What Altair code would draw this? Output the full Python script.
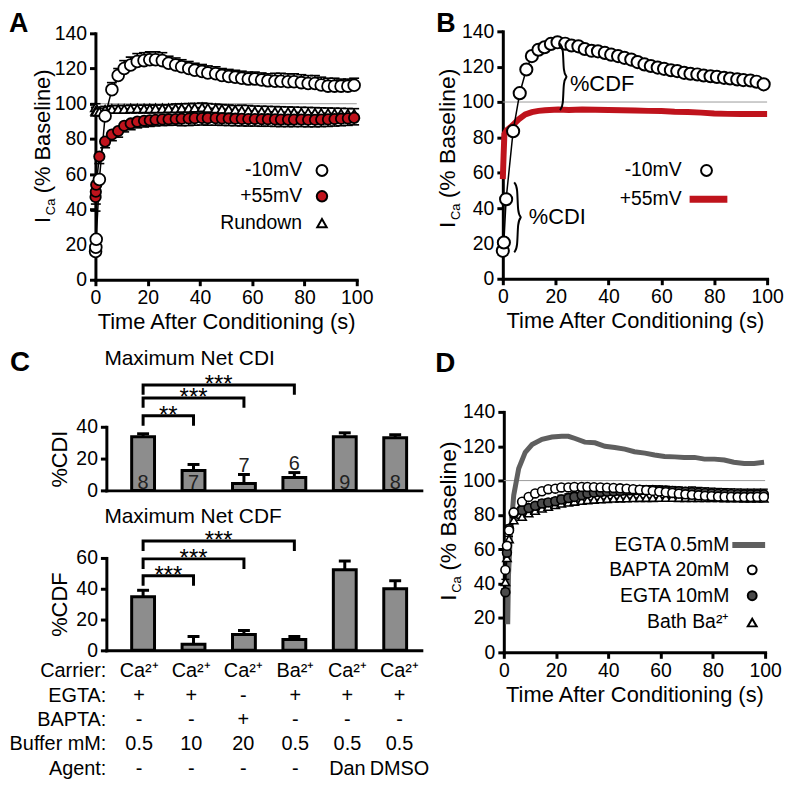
import altair as alt
import pandas as pd

FONT = "Liberation Sans"
W, H = 778, 772

RED = "#bf131c"
BAR_GRAY = "#8d8d8d"
LINE_GRAY = "#5f5f5f"
DARK_PT = "#4a4a4a"
REF_GRAY = "#9a9a9a"

# ---------------- tick labels / reference ----------------
time_ticks = [0, 20, 40, 60, 80, 100]
pct_ticks = [0, 20, 40, 60, 80, 100, 120, 140]
cdi_ticks = [0, 20, 40]
cdf_ticks = [0, 20, 40, 60]
baseline_pct = [100]

# ---------------- Panel A ----------------
tA = [0.05, 0.15, 0.3, 1.5, 3.7, 6.3, 8.7, 11, 13.5, 16, 18.6, 20.8, 23, 25.6, 28, 30.7, 33, 35.7, 38, 40.8,
      43, 46, 48.4, 51, 53.5, 56, 58.5, 61, 63.6, 66, 68.7, 71, 73.7, 76, 78.8, 81.4, 84, 86.4, 89, 91.5,
      94, 96.6, 99]
yA_m10 = [16, 18.5, 23, 57, 93, 108, 116, 120, 122, 124, 124.5, 125, 125, 124.5, 123, 122, 121, 120, 119, 118.3,
          117.5, 117, 116, 115.5, 115, 114.5, 114, 114, 113.5, 113, 112.8, 112.8, 112.5, 112.5, 112, 111.5, 111.5,
          110.6, 110, 110, 110, 110, 110.5]
semA_m10 = [0.5, 0.5, 0.8, 2, 3, 4, 4, 4.5, 4.5, 4.5, 4.5, 4.5, 4.5, 4.5, 4, 4, 4, 4, 4, 4, 4, 4, 4, 4, 4, 4, 4,
            4, 4, 4, 4.5, 4.5, 4.5, 4.5, 4.5, 4.5, 4.5, 4.5, 4.5, 4.5, 4, 4, 4]
yA_p55 = [47, 50, 54, 70, 78.5, 82.5, 84.5, 87.5, 88.8, 89.8, 90.3, 90.6, 90.9, 91.1, 91.2, 91.3, 91.5, 91.6, 91.8,
          91.9, 91.8, 91.8, 91.7, 91.6, 91.5, 91.4, 91.3, 91.3, 91.2, 91.2, 91.1, 91.0, 91.0, 91.0, 91.0, 90.9,
          90.9, 91.0, 91.1, 91.3, 91.5, 91.7, 92]
semA_p55 = [8, 7, 6, 4, 3.5, 3.5, 3.5, 3.5, 3.5, 3.5, 3.5, 3.5, 3.5, 3.5, 3.5, 3.5, 4, 4, 4, 4, 4, 4, 4, 4, 4, 4,
            4, 4, 4, 4, 4, 4, 4, 4, 4, 4, 4, 4, 4, 4, 4, 4, 4]
yA_run = [98, 96, 95.5, 95.5, 96.5, 97, 97, 97, 97.2, 97.2, 97.2, 97.2, 97.3, 97.3, 97.4, 97.4, 97.5, 97.6, 97.7,
          97.9, 97.6, 97.3, 97, 96.8, 96.5, 96.2, 96, 95.7, 95.6, 95.5, 95.4, 95.3, 95.2, 95.1, 95, 94.9, 94.8,
          94.7, 94.6, 94.5, 94.4, 94.3, 94.2]
semA_run = [2, 2, 2, 2, 2, 2, 2, 2, 2, 2, 2, 2, 2, 2, 2, 2.5, 2.5, 2.5, 2.5, 2.5, 2.5, 2.5, 2.5, 2.5, 2.5, 3, 3,
            3, 3, 3, 3, 3, 3, 3, 3, 3, 3, 3, 3, 3, 3, 3, 3]

# ---------------- Panel B ----------------
tB = [0, 0.4, 1.25, 3.9, 6.4, 8.9, 11, 13.5, 15.8, 18.2, 20.7, 23.6, 26, 28.6, 31, 33.6, 36, 38.6, 41, 43.6,
      46, 48.6, 51, 53.6, 56, 58.6, 61, 63.6, 66, 68.6, 71, 73.6, 76, 78.6, 81, 83.7, 86, 88.7, 91, 93.7, 96, 98.7]
yB_m10 = [15.8, 20.5, 45, 83.5, 105, 118.4, 126, 129.6, 131, 132.9, 133.8, 133, 132, 131.5, 130, 129, 128.7,
          127.8, 126.8, 126, 125, 124, 122.6, 121.3, 120.4, 119.5, 118.8, 118, 117.5, 116.5, 116, 115.6, 115,
          114.6, 114.2, 113.7, 113.3, 112.8, 112.4, 112.2, 111.5, 110]
tB_p55 = [0, 0.3, 0.6, 1.5, 3.5, 6, 8.5, 11, 13.5, 16, 21, 25, 30, 35, 40, 45, 50, 55, 60, 65, 70, 75, 80, 85,
          90, 95, 100]
yB_p55 = [56.4, 70, 81.8, 84, 86.5, 90.2, 93, 94.3, 95, 95.3, 95.8, 95.5, 95.8, 95.6, 95.5, 95.3, 95.2, 95,
          94.9, 94.5, 94.3, 94, 93.5, 93.3, 93.2, 93.2, 93.2]
brace_names = ["%CDF", "%CDI"]
brace_x = [21.6, 4.3]
brace_lo = [95.5, 15]
brace_hi = [133, 54.5]
brace_text_x = [25.4, 9.8]
brace_text_y = [110, 35]

# ---------------- Panel C ----------------
cond = [1, 2, 3, 4, 5, 6]
cdi = [33.7, 12.5, 4.4, 8.1, 33.7, 33.1]
cdi_sem = [1.9, 3.8, 5.6, 3.1, 2.5, 1.9]
cdf = [34.8, 3.9, 10.3, 7.0, 52.3, 40.0]
cdf_sem = [4.2, 5.1, 2.6, 2.0, 5.7, 5.2]
n_cells = ["8", "7", "7", "6", "9", "8"]
sig_to = [2, 3, 4]
cdi_sig = ["**", "***", "***"]
cdi_sig_y = [46.9, 58.1, 66.3]
cdf_sig = ["***", "***", "***"]
cdf_sig_y = [48.4, 59.4, 71.0]

rows = ["Carrier:", "EGTA:", "BAPTA:", "Buffer mM:", "Agent:"]
carrier = ["Ca²⁺", "Ca²⁺", "Ca²⁺", "Ba²⁺", "Ca²⁺", "Ca²⁺"]
egta = ["+", "+", "-", "+", "+", "+"]
bapta = ["-", "-", "+", "-", "-", "-"]
buffer_mm = ["0.5", "10", "20", "0.5", "0.5", "0.5"]
agent = ["-", "-", "-", "-", "Dan", "DMSO"]

# ---------------- Panel D ----------------
tD_line = [1.5, 1.8, 2.5, 3.8, 5.7, 8.2, 10.8, 14.6, 18.4, 22.2, 24.7, 27.3, 31, 34.9, 38.7, 42.5, 46.3, 50, 54,
           57.7, 61.5, 65.4, 69, 73, 76.8, 80.6, 84.4, 88, 92, 95.8, 99.6]
yD_egta05 = [16.4, 45, 68, 91.5, 107, 116.4, 121, 124, 125.4, 125.8, 125.8, 124.5, 122.4, 122, 120, 119.3, 118.3,
             116.8, 116, 114.9, 114, 113.8, 113.5, 113.5, 112.5, 112.5, 112, 110.7, 110, 110, 110.7]
tD = [0.6, 1.2, 2, 3.8, 7, 9.5, 12, 14.6, 17, 19.7, 22, 24.7, 27, 29.8, 32, 34.5, 37, 39.5, 42, 44.5, 47, 49.5,
      52, 54.5, 57, 59.5, 62, 64.5, 67, 69.5, 72, 74.5, 77, 79.5, 82, 84.5, 87, 89.5, 92, 94.5, 97, 99.5]
yD_bapta = [48, 62, 71, 81.5, 87.7, 90.5, 92.5, 93.8, 95, 95.3, 96, 96, 96.3, 96.3, 96.3, 96.2, 96, 95.9, 95.7,
            95.5, 95.3, 95, 94.7, 94.4, 94, 93.6, 93.2, 92.8, 92.4, 92, 91.7, 91.4, 91.1, 90.9, 90.7, 90.6, 90.5,
            90.4, 90.4, 90.4, 90.5, 90.5]
yD_egta10 = [35, 58, 72, 80.9, 82.8, 84, 85.3, 86.7, 87.3, 88, 89, 89.8, 90.5, 91.5, 92.5, 93, 93.4, 93.6, 93.8,
             94, 94.4, 94.5, 94.5, 94.5, 94.5, 94.4, 94.2, 94, 93.8, 93.5, 93.3, 93, 92.8, 92.6, 92.4, 92.3, 92.2,
             92.1, 92, 92, 92, 92]
semD_egta10 = [2, 2, 2, 2, 2, 2, 2, 2, 2, 2, 2.5, 2.5, 2.5, 2.5, 2.5, 2.5, 2.5, 2.5, 2.5, 2.5, 2.5, 2.5, 2.5, 2.5,
               2.5, 2.5, 2.5, 2.5, 2.5, 2.5, 3, 3, 3, 3, 3, 3, 3, 3, 3, 3, 3, 3]
yD_ba = [41, 55, 66, 77, 79, 81, 82.5, 83.8, 84.8, 85.8, 86.7, 87.3, 87.8, 88.3, 88.7, 89, 89.2, 89.4, 89.6, 89.7,
         89.8, 89.9, 90, 90, 90, 90.1, 90.1, 90.1, 90, 90, 90, 90, 89.9, 89.9, 89.9, 89.8, 89.8, 89.8, 89.7, 89.7,
         89.7, 89.6]
semD_ba = [1.5, 1.5, 1.5, 1.5, 1.5, 1.5, 1.5, 1.5, 2, 2, 2, 2, 2, 2, 2, 2, 2, 2, 2, 2, 2, 2, 2, 2, 2, 2, 2, 2, 2, 2,
           2, 2, 2, 2, 2, 2, 2, 2, 2, 2, 2, 2]

# ================= layout (pixels inside the drawing) =================
A_X, A_Y = (88, 351), (270, 22)
B_X, B_Y = (498, 764), (269, 20)
CT_Y = (482, 418)
CB_Y = (643, 550)
C_X = (99, 416)
C_DOM = (0.37, 6.42)
TAB_Y = (664, 762)
D_X, D_Y = (499, 762), (645, 403)


def lin(domain, rng):
    return alt.Scale(domain=list(domain), range=list(rng), nice=False, zero=False)


def xaxis(ypix, values=None, title=None, labels=True):
    kw = dict(orient="bottom", offset=ypix - H, labelFlush=False, labelOverlap=False, grid=False,
              titlePadding=5, titleFontWeight="normal", title=title)
    if values is not None:
        kw["values"] = values
    if not labels:
        kw.update(labels=False, ticks=False)
    return alt.Axis(**kw)


def yaxis(xpix, values, title=None, pad=4):
    return alt.Axis(orient="left", offset=-xpix, values=values, labelFlush=False, grid=False,
                    labelOverlap=False, title=title, titlePadding=pad, titleFontWeight="normal")


def q(field, scale, hide=False):
    if hide:
        return alt.X(field, type="quantitative", scale=scale, axis=None)
    return alt.X(field, type="quantitative", scale=scale)


def qy(field, scale):
    return alt.Y(field, type="quantitative", scale=scale)


def line(df, x, y, sx, sy, color="black", width=1.5, interpolate="linear"):
    return alt.Chart(df).mark_line(color=color, strokeWidth=width, interpolate=interpolate).encode(
        x=q(x, sx), y=qy(y, sy))


def errbar(df, x, y0, y1, sx, sy, cap=10, width=1.6):
    rule = alt.Chart(df).mark_rule(color="black", strokeWidth=width).encode(
        x=q(x, sx), y=qy(y0, sy), y2=alt.Y2(y1))
    tick = alt.Chart(df).mark_tick(color="black", orient="horizontal", size=cap, thickness=width,
                                   opacity=1).encode(x=q(x, sx), y=qy(y1, sy))
    return [rule, tick]


def points(df, x, y, sx, sy, shape, fill, size, sw=1.8):
    return alt.Chart(df).mark_point(shape=shape, filled=True, fill=fill, stroke="black", strokeWidth=sw,
                                    size=size, opacity=1).encode(x=q(x, sx), y=qy(y, sy))


def label(text, x, y, size=19, align="left", baseline="alphabetic", angle=0, weight="normal"):
    return alt.Chart(pd.DataFrame({"t": [text]})).mark_text(
        align=align, baseline=baseline, angle=angle, fontSize=size, fontWeight=weight, font=FONT,
        color="black").encode(x=alt.value(x), y=alt.value(y), text="t:N")


def sym(x, y, shape, fill, size):
    return alt.Chart(pd.DataFrame({"k": [0]})).mark_point(
        shape=shape, filled=True, fill=fill, stroke="black", strokeWidth=2, size=size, opacity=1).encode(
        x=alt.value(x), y=alt.value(y))


def seg(x1, x2, y, color, width):
    return alt.Chart(pd.DataFrame({"k": [0]})).mark_rule(color=color, strokeWidth=width).encode(
        x=alt.value(x1), x2=alt.value(x2), y=alt.value(y))


def ytitle(xc, ybot, size=22):
    return [label("I", xc, ybot, size, angle=270, baseline="middle"),
            label("Ca", xc + 8, ybot - 8, 13, angle=270, baseline="middle"),
            label("(% Baseline)", xc, ybot - 30, size, angle=270, baseline="middle")]


def refline(sx, sy, xax, yax):
    df = pd.DataFrame({"x0": [time_ticks[0]], "x1": [time_ticks[-1]], "y": baseline_pct})
    return alt.Chart(df).mark_rule(color=REF_GRAY, strokeWidth=1).encode(
        x=alt.X("x0:Q", scale=sx, axis=xax), x2="x1:Q", y=alt.Y("y:Q", scale=sy, axis=yax))


# ================= Panel A =================
sxA, syA = lin((0, 100), A_X), lin((0, 140), A_Y)
dA = pd.DataFrame({"t": tA, "m10": yA_m10, "p55": yA_p55, "run": yA_run,
                   "m10_hi": [a + b for a, b in zip(yA_m10, semA_m10)],
                   "p55_lo": [a - b for a, b in zip(yA_p55, semA_p55)],
                   "run_hi": [a + b for a, b in zip(yA_run, semA_run)]})
panelA = alt.layer(
    refline(sxA, syA, xaxis(A_Y[0], time_ticks, "Time After Conditioning (s)"), yaxis(A_X[0], pct_ticks)),
    line(dA, "t", "run", sxA, syA), line(dA, "t", "p55", sxA, syA), line(dA, "t", "m10", sxA, syA),
    *errbar(dA, "t", "run", "run_hi", sxA, syA),
    *errbar(dA, "t", "p55", "p55_lo", sxA, syA),
    *errbar(dA, "t", "m10", "m10_hi", sxA, syA),
    points(dA, "t", "run", sxA, syA, "triangle-up", "white", 90),
    points(dA, "t", "p55", sxA, syA, "circle", RED, 110),
    points(dA, "t", "m10", sxA, syA, "circle", "white", 140),
)

# ================= Panel B =================
sxB, syB = lin((0, 100), B_X), lin((0, 140), B_Y)
dB = pd.DataFrame({"t": tB, "m10": yB_m10})
dBr = pd.DataFrame({"t": tB_p55, "p55": yB_p55})
brace_rows = []
for b, (bx, lo, hi) in enumerate(zip(brace_x, brace_lo, brace_hi)):
    mid, w, c = (lo + hi) / 2, 2.6, 2.2
    shape = [(bx, hi), (bx + w / 2, hi - c), (bx + w / 2, mid + c), (bx + w, mid), (bx + w, mid),
             (bx + w / 2, mid - c), (bx + w / 2, lo + c), (bx, lo)]
    for i, (px, py) in enumerate(shape):
        brace_rows.append({"b": b, "i": i, "x": px, "y": py})
dBrace = pd.DataFrame(brace_rows)
dBtext = pd.DataFrame({"txt": brace_names, "x": brace_text_x, "y": brace_text_y})
panelB = alt.layer(
    refline(sxB, syB, xaxis(B_Y[0], time_ticks, "Time After Conditioning (s)"), yaxis(B_X[0], pct_ticks)),
    line(dBr, "t", "p55", sxB, syB, color=RED, width=6),
    line(dB, "t", "m10", sxB, syB),
    points(dB, "t", "m10", sxB, syB, "circle", "white", 150, sw=2),
    alt.Chart(dBrace).mark_line(color="black", strokeWidth=2, interpolate="basis").encode(
        x=q("x", sxB), y=qy("y", syB), detail="b:N", order="i:Q"),
    alt.Chart(dBtext).mark_text(align="left", baseline="middle", fontSize=22, font=FONT, color="black").encode(
        x=q("x", sxB), y=qy("y", syB), text="txt:N"),
)


# ================= Panel C =================
def bar_panel(vals, sems, ypix, ticks, ytitle_txt, sig_txt, sig_y, drop, with_n):
    sx, sy = lin(C_DOM, C_X), lin((0, ticks[-1]), ypix)
    df = pd.DataFrame({"c": cond, "v": vals, "hi": [a + b for a, b in zip(vals, sems)], "n": n_cells})
    df["ny"] = [1.0 if v > 10 else h + 1.5 for v, h in zip(vals, df["hi"])]
    br = []
    for k, (to, top) in enumerate(zip(sig_to, sig_y)):
        for i, (px, py) in enumerate([(cond[0], top - drop), (cond[0], top), (to, top), (to, top - drop)]):
            br.append({"k": k, "i": i, "x": px, "y": py})
    dbr = pd.DataFrame(br)
    dsig = pd.DataFrame({"txt": sig_txt, "x": [(cond[0] + t) / 2 for t in sig_to], "y": sig_y})
    layers = [
        alt.Chart(df).mark_bar(size=23, fill=BAR_GRAY, stroke="black", strokeWidth=3).encode(
            x=alt.X("c:Q", scale=sx, axis=xaxis(ypix[0], labels=False)),
            y=alt.Y("v:Q", scale=sy, axis=yaxis(C_X[0], ticks, ytitle_txt))),
        alt.Chart(df).mark_rule(color="black", strokeWidth=3).encode(
            x=q("c", sx), y=qy("v", sy), y2=alt.Y2("hi")),
        alt.Chart(df).mark_tick(color="black", orient="horizontal", size=12, thickness=3, opacity=1).encode(
            x=q("c", sx), y=qy("hi", sy)),
        alt.Chart(dbr).mark_line(color="black", strokeWidth=3).encode(
            x=q("x", sx), y=qy("y", sy), detail="k:N", order="i:Q"),
        alt.Chart(dsig).mark_text(align="center", baseline="alphabetic", dy=7, fontSize=24, font=FONT,
                                  color="black").encode(x=q("x", sx), y=qy("y", sy), text="txt:N"),
    ]
    if with_n:
        layers.append(alt.Chart(df).mark_text(align="center", baseline="alphabetic", fontSize=20, font=FONT,
                                              color="#222222").encode(
            x=q("c", sx), y=qy("ny", sy), text="n:N"))
    return alt.layer(*layers)


panelCtop = bar_panel(cdi, cdi_sem, CT_Y, cdi_ticks, "%CDI", cdi_sig, cdi_sig_y, 6.2, True)
panelCbot = bar_panel(cdf, cdf_sem, CB_Y, cdf_ticks, "%CDF", cdf_sig, cdf_sig_y, 6.5, False)

sxT = lin(C_DOM, C_X)
syT = alt.Scale(type="point", domain=rows, range=list(TAB_Y), padding=0)
tab = pd.DataFrame([{"row": r, "c": c, "txt": v}
                    for r, vals in zip(rows, [carrier, egta, bapta, buffer_mm, agent])
                    for c, v in zip(cond, vals)])
panelTable = alt.layer(
    alt.Chart(tab).mark_text(align="center", baseline="middle", fontSize=20, font=FONT, color="black").encode(
        x=q("c", sxT, hide=True), y=alt.Y("row:N", scale=syT, axis=None), text="txt:N"),
    alt.Chart(pd.DataFrame({"row": rows})).mark_text(
        align="right", baseline="middle", fontSize=20, font=FONT, color="black").encode(
        x=alt.value(99), y=alt.Y("row:N", scale=syT, axis=None), text="row:N"),
)

# ================= Panel D =================
sxD, syD = lin((0, 100), D_X), lin((0, 140), D_Y)
dDl = pd.DataFrame({"t": tD_line, "y": yD_egta05})
dD = pd.DataFrame({"t": tD, "bapta": yD_bapta, "egta10": yD_egta10, "ba": yD_ba,
                   "egta10_hi": [a + b for a, b in zip(yD_egta10, semD_egta10)],
                   "ba_hi": [a + b for a, b in zip(yD_ba, semD_ba)]})
panelD = alt.layer(
    refline(sxD, syD, xaxis(D_Y[0], time_ticks, "Time After Conditioning (s)"), yaxis(D_X[0], pct_ticks)),
    line(dDl, "t", "y", sxD, syD, color=LINE_GRAY, width=5),
    line(dD, "t", "ba", sxD, syD, width=1.2), line(dD, "t", "egta10", sxD, syD, width=1.2),
    line(dD, "t", "bapta", sxD, syD, width=1.2),
    *errbar(dD, "t", "ba", "ba_hi", sxD, syD, cap=8, width=1.4),
    *errbar(dD, "t", "egta10", "egta10_hi", sxD, syD, cap=8, width=1.4),
    points(dD, "t", "ba", sxD, syD, "triangle-up", "white", 70, sw=1.6),
    points(dD, "t", "egta10", sxD, syD, "circle", DARK_PT, 80, sw=1.6),
    points(dD, "t", "bapta", sxD, syD, "circle", "white", 80, sw=1.6),
)

# ================= annotations: letters, titles, legends =================
annotations = [
    label("A", 1, 21, 27, weight="bold"),
    label("B", 431, 21, 27, weight="bold"),
    label("C", 2, 362, 28, weight="bold"),
    label("D", 430, 363, 28, weight="bold"),
    *ytitle(35, 213),
    *ytitle(443, 218, 23),
    *ytitle(444, 593, 23),
    label("Maximum Net CDI", 97, 356, 21),
    label("Maximum Net CDF", 97, 515, 21),
    # legend A
    label("-10mV", 296, 160, 19.5, align="right", baseline="middle"),
    label("+55mV", 296, 186, 19.5, align="right", baseline="middle"),
    label("Rundown", 296, 213, 19.5, align="right", baseline="middle"),
    sym(316, 160, "circle", "white", 120),
    sym(316, 186, "circle", RED, 110),
    sym(316, 213, "triangle-up", "white", 90),
    # legend B
    label("-10mV", 678, 160, 19.5, align="right", baseline="middle"),
    label("+55mV", 678, 189, 19.5, align="right", baseline="middle"),
    sym(703, 160, "circle", "white", 120),
    seg(686, 724, 189, RED, 7),
    # legend D
    label("EGTA 0.5mM", 726, 537, 19.5, align="right", baseline="middle"),
    label("BAPTA 20mM", 726, 562, 19.5, align="right", baseline="middle"),
    label("EGTA 10mM", 726, 588, 19.5, align="right", baseline="middle"),
    label("Bath Ba²⁺", 726, 615, 19.5, align="right", baseline="middle"),
    seg(729, 762, 537, LINE_GRAY, 6),
    sym(749, 562, "circle", "white", 80),
    sym(749, 588, "circle", DARK_PT, 80),
    sym(749, 615, "triangle-up", "white", 80),
]

chart = alt.layer(
    panelA, panelB, panelCtop, panelCbot, panelTable, panelD, *annotations
).resolve_scale(x="independent", y="independent").properties(
    width=W, height=H, padding=0
).configure_view(strokeWidth=0).configure_axis(
    domainColor="black", domainWidth=3, domainCap="square", tickColor="black", tickWidth=3, tickSize=6,
    labelFont=FONT, labelFontSize=19.5, labelColor="black", labelPadding=3,
    titleFont=FONT, titleFontSize=22, titleFontWeight="normal", titleColor="black", grid=False
)

chart.save("out.html", embed_options={"renderer": "svg", "actions": False})
